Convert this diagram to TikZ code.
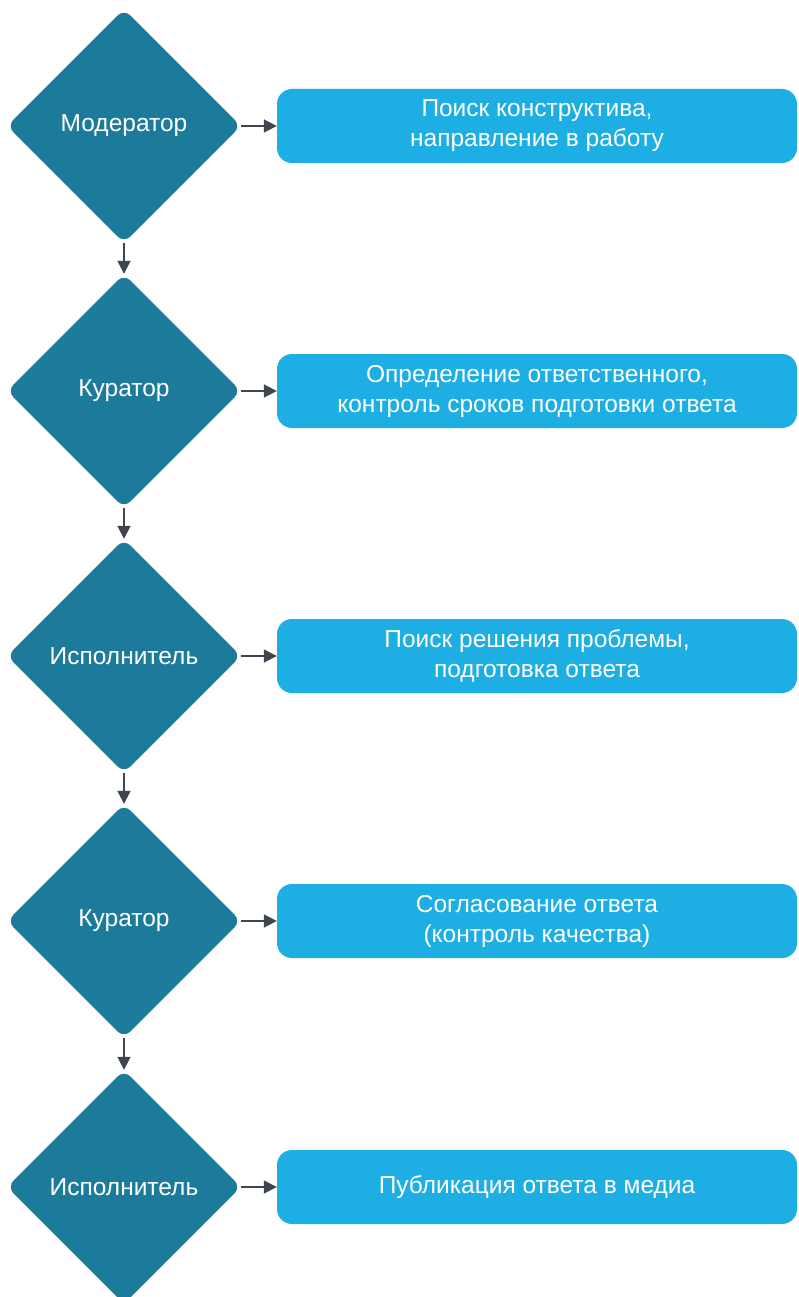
\documentclass[tikz,border=0pt]{standalone}
\usepackage{fontspec}
\setmainfont{Liberation Sans}
\usetikzlibrary{shapes.geometric,arrows.meta}
\definecolor{dia}{RGB}{28,122,154}
\definecolor{boxc}{RGB}{29,174,228}
\definecolor{arr}{RGB}{64,70,78}
\begin{document}
\begin{tikzpicture}[x=1pt,y=1pt,
  role/.style={diamond,fill=dia,draw=none,minimum width=234pt,minimum height=234pt,inner sep=0pt,rounded corners=9pt,text=white,font=\fontsize{24.5}{30}\selectfont},
  task/.style={rectangle,fill=boxc,draw=none,minimum width=520pt,minimum height=74pt,rounded corners=15pt,text=white,align=center,font=\fontsize{24.5}{30}\selectfont},
  conn/.style={draw=arr,line width=1.8pt,-{Triangle[length=13pt,width=13pt]}}]
\useasboundingbox (0,0) rectangle (799,-1297);
\clip (0,0) rectangle (799,-1297);
\fill[white] (0,0) rectangle (799,-1297);
\node[role] (d1) at (124,-126) {Модератор};
\node[role] (d2) at (124,-391) {Куратор};
\node[role] (d3) at (124,-656) {Исполнитель};
\node[role] (d4) at (124,-921) {Куратор};
\node[role] (d5) at (124,-1187) {Исполнитель};
\node[task] (b1) at (537,-126) {Поиск конструктива,\\направление в работу};
\node[task] (b2) at (537,-391) {Определение ответственного,\\контроль сроков подготовки ответа};
\node[task] (b3) at (537,-656) {Поиск решения проблемы,\\подготовка ответа};
\node[task] (b4) at (537,-921) {Согласование ответа\\ (контроль качества)};
\node[task] (b5) at (537,-1187) {Публикация ответа в медиа};
\foreach \i in {1,...,5} {\draw[conn] (d\i.east) -- (b\i.west);}
\foreach \i/\j in {1/2,2/3,3/4,4/5} {\draw[conn] (d\i.south) -- (d\j.north);}
\end{tikzpicture}
\end{document}
